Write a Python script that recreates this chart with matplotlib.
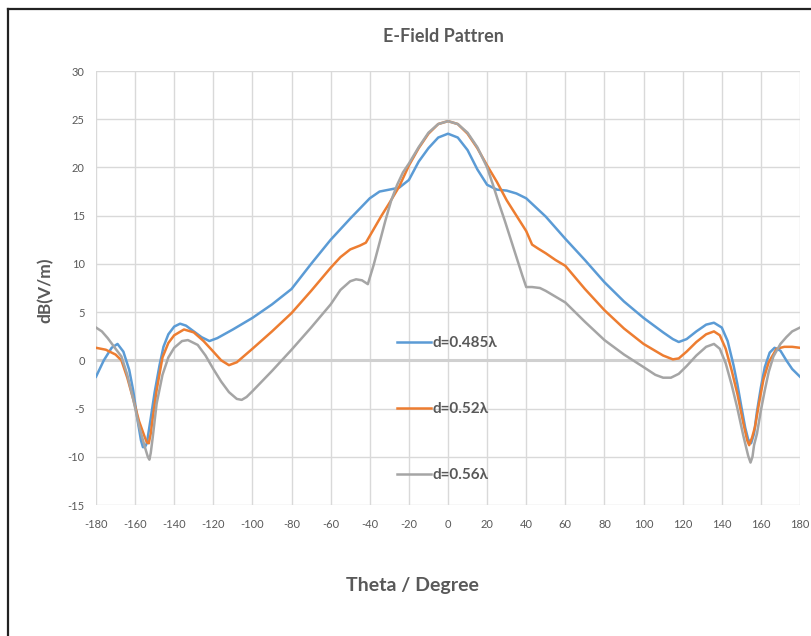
import matplotlib
matplotlib.use("Agg")
import matplotlib.pyplot as plt
from matplotlib.lines import Line2D

# ---------------- data ----------------
theta_a = [-180, -176, -172, -169, -166, -163, -161, -158.5, -157, -156, -155, -154, -152, -150,
           -147.5, -145.5, -143, -140, -137, -134, -130, -126, -122, -118, -110, -100,
           -90, -80, -70, -60, -50, -40, -35, -30, -25, -20, -15, -10, -5, 0,
           5, 10, 15, 20, 25, 30, 35, 40, 50, 60, 70, 80, 90, 100, 110, 115, 118,
           122, 127, 132, 136, 140, 143, 146, 148, 150, 152, 153.5, 155, 156.5, 158, 160,
           162, 164.5, 167, 170, 173, 176, 180]
db_a = [-1.7, 0.0, 1.3, 1.7, 0.9, -1.0, -3.1, -6.5, -8.3, -9.0, -9.0, -8.6, -6.0, -3.3,
        -0.5, 1.4, 2.7, 3.5, 3.8, 3.6, 3.0, 2.4, 2.0, 2.3, 3.2, 4.4,
        5.8, 7.4, 10.0, 12.5, 14.7, 16.8, 17.5, 17.7, 17.9, 18.7, 20.6, 22.0, 23.1, 23.5,
        23.1, 21.8, 19.8, 18.2, 17.7, 17.6, 17.3, 16.8, 14.9, 12.6, 10.4, 8.1, 6.1, 4.4, 2.9, 2.2, 1.9,
        2.2, 3.0, 3.7, 3.9, 3.4, 2.0, -0.5, -2.5, -4.8, -7.0, -8.2, -8.6, -7.6, -5.3, -2.8,
        -0.7, 0.8, 1.3, 1.0, 0.0, -0.9, -1.7]

theta_b = [-180, -175, -170, -167, -164, -161, -158, -155, -154, -153, -152, -151, -149, -146,
           -143, -140, -135, -130, -125, -120, -116, -112, -108, -104, -100, -90,
           -80, -70, -60, -55, -50, -45, -42, -38, -34, -30, -25, -20, -15, -10, -5, 0,
           5, 10, 15, 20, 25, 30, 35, 40, 43, 46, 50, 55, 60, 70, 80, 90, 100, 110,
           115, 118, 122, 127, 132, 136, 139, 142, 145, 148, 151, 153, 154, 155.5, 157, 159,
           161.3, 164, 168, 172, 176, 180]
db_b = [1.3, 1.1, 0.6, 0.0, -1.8, -4.0, -6.3, -8.0, -8.5, -8.6, -7.6, -6.0, -3.1, 0.3,
        1.8, 2.6, 3.2, 2.9, 2.0, 0.9, 0.0, -0.5, -0.2, 0.5, 1.2, 3.0,
        4.9, 7.2, 9.6, 10.7, 11.5, 11.9, 12.2, 13.6, 15.0, 16.3, 18.0, 20.2, 22.0, 23.5, 24.5, 24.8,
        24.5, 23.5, 22.0, 20.2, 18.5, 16.6, 15.0, 13.4, 12.0, 11.6, 11.1, 10.4, 9.8, 7.4, 5.2, 3.3, 1.7, 0.5,
        0.1, 0.2, 0.9, 1.9, 2.7, 3.0, 2.6, 1.2, -1.0, -3.5, -6.5, -8.3, -8.8, -8.0, -6.9, -4.5,
        -2.0, -0.2, 1.2, 1.4, 1.4, 1.3]

theta_c = [-180, -177, -174, -170, -167, -164, -161, -158, -155, -153.5, -152.7, -152, -151, -149,
           -146, -143, -140, -136, -133, -128, -124, -120, -116, -112, -108, -105.5,
           -103, -100, -90, -80, -70, -60, -55, -50, -47, -44, -41, -38, -35, -32,
           -29, -26, -23, -20, -15, -10, -5, 0,
           5, 10, 15, 20, 23, 26, 29, 32, 35, 38, 40, 43, 47, 50, 55, 60, 70, 80,
           90, 100, 106, 110, 114, 118, 122, 127, 132, 136, 139, 142, 145, 148, 151,
           153.5, 154.7, 155.7, 156.5, 158, 160, 162, 164, 166.4, 170, 173, 176, 180]
db_c = [3.4, 3.0, 2.3, 1.2, 0.4, -1.5, -4.0, -6.8, -9.0, -10.0, -10.3, -9.6, -8.0, -4.5,
        -1.5, 0.3, 1.3, 2.0, 2.1, 1.6, 0.5, -0.9, -2.2, -3.3, -4.0, -4.1,
        -3.8, -3.2, -1.1, 1.1, 3.4, 5.8, 7.3, 8.2, 8.4, 8.3, 7.9, 9.9, 12.2, 14.5,
        16.6, 18.2, 19.5, 20.4, 22.1, 23.6, 24.5, 24.8,
        24.5, 23.6, 22.1, 20.0, 18.2, 16.3, 14.5, 12.6, 10.7, 8.8, 7.6, 7.6, 7.5, 7.2, 6.6, 6.0, 4.0, 2.1,
        0.6, -0.7, -1.5, -1.8, -1.8, -1.4, -0.6, 0.5, 1.4, 1.7, 1.2, -0.3, -2.5, -5.0, -7.8,
        -9.9, -10.6, -10.0, -8.8, -7.6, -5.2, -3.1, -1.2, 0.4, 1.7, 2.4, 3.0, 3.4]

labels = ["d=0.485\u03bb", "d=0.52\u03bb", "d=0.56\u03bb"]
colors = ["#5B9BD5", "#ED7D31", "#A5A5A5"]
x_ticks = list(range(-180, 181, 20))
y_ticks = list(range(-15, 31, 5))

# ---------------- figure ----------------
plt.rcParams['font.family'] = ['Lato', 'DejaVu Sans']
plt.rcParams['axes.unicode_minus'] = False
W, H = 811, 636
fig = plt.figure(figsize=(W / 100, H / 100), dpi=100)
fig.patch.set_facecolor("white")

ax = fig.add_axes([96 / W, (H - 505) / H, 704 / W, 434 / H])
ax.set_xlim(-180, 180)
ax.set_ylim(-15, 30)
ax.set_xticks(x_ticks)
ax.set_yticks(y_ticks)
for s in ax.spines.values():
    s.set_visible(False)
ax.grid(True, color="#D9D9D9", linewidth=1.0)
ax.set_axisbelow(True)
ax.axhline(0, color="#D0D0D0", linewidth=2.2, zorder=1)
ax.tick_params(length=0, labelsize=8, labelcolor="#595959", pad=8)
ax.tick_params(axis='x', pad=10)

series = [(theta_a, db_a), (theta_b, db_b), (theta_c, db_c)]
handles = []
for (t, v), lab, c in zip(series, labels, colors):
    h, = ax.plot(t, v, color=c, linewidth=1.8, label=lab, zorder=3,
                 solid_joinstyle='round')
    handles.append(h)

leg = ax.legend(handles=handles, loc='upper left',
                bbox_to_anchor=((397 - 96) / 704, (505 - 336) / 434),
                frameon=False, handlelength=2.2, handletextpad=0.15,
                labelspacing=3.4, borderpad=0, borderaxespad=0,
                prop={'weight': 'bold', 'size': 11})
for txt in leg.get_texts():
    txt.set_color("#595959")

fig.text(443 / W, 1 - 37 / H, "E-Field Pattren", ha='center', va='center',
         fontsize=13, fontweight='bold', color="#595959")
fig.text(412 / W, 1 - 586 / H, "Theta / Degree", ha='center', va='center',
         fontsize=14, fontweight='bold', color="#595959")
fig.text(45 / W, 1 - 290 / H, "dB(V/m)", ha='center', va='center', rotation=90,
         fontsize=12.5, fontweight='bold', color="#595959")

# outer dark border (left and top)
fig.add_artist(Line2D([8 / W, 8 / W], [0, 1 - 9 / H], transform=fig.transFigure,
                      color="#222222", linewidth=1.6))
fig.add_artist(Line2D([8 / W, 1], [1 - 9 / H, 1 - 9 / H], transform=fig.transFigure,
                      color="#222222", linewidth=1.6))

fig.savefig("out.png", dpi=100)
